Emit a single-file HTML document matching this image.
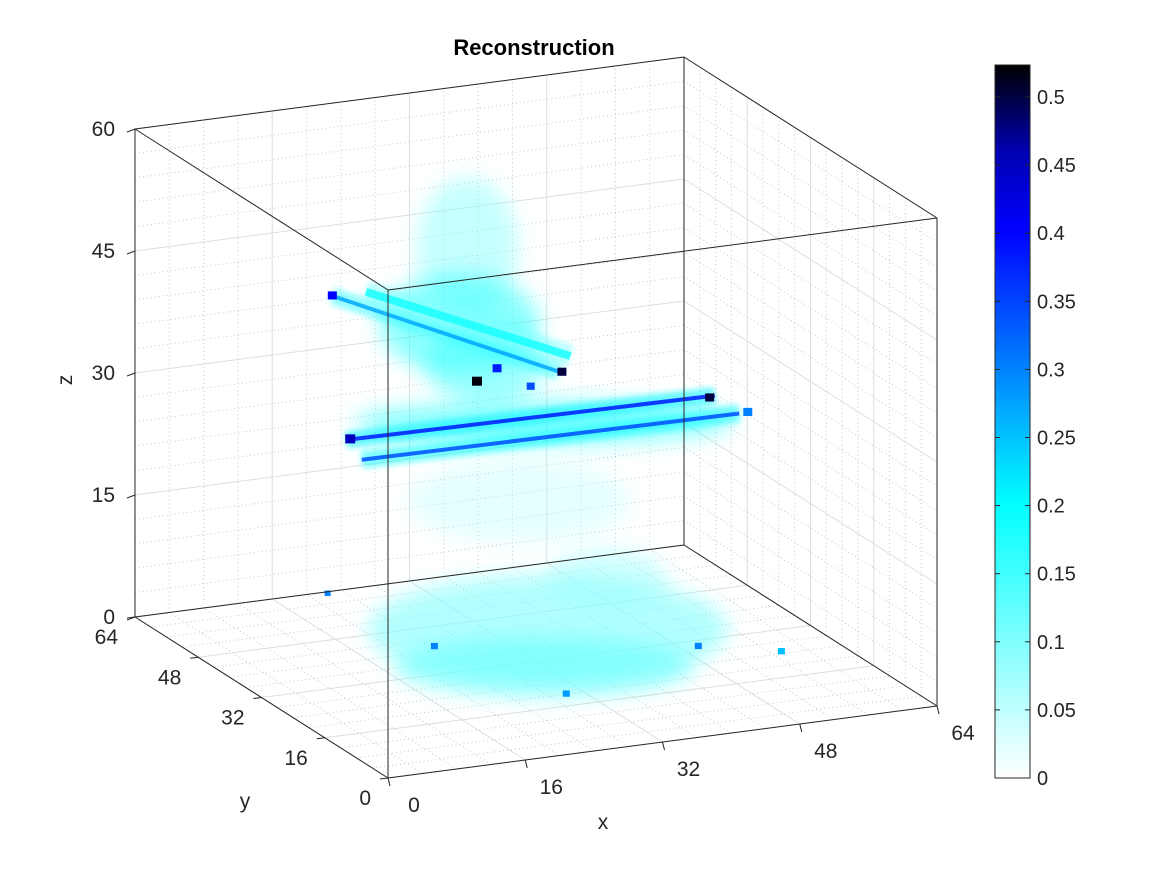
<!DOCTYPE html>
<html><head><meta charset="utf-8">
<style>
body{margin:0;background:#fff;}
svg{display:block;font-family:"Liberation Sans",sans-serif;}
</style></head>
<body>
<svg id="chart" width="1167" height="875" viewBox="0 0 1167 875">
<defs>
<filter id="blur8" x="-50%" y="-50%" width="200%" height="200%"><feGaussianBlur stdDeviation="10"/></filter>
<filter id="blur3" x="-50%" y="-50%" width="200%" height="200%"><feGaussianBlur stdDeviation="3"/></filter>
<linearGradient id="cmap" x1="0" y1="1" x2="0" y2="0">
<stop offset="0" stop-color="#ffffff"/>
<stop offset="0.385" stop-color="#00ffff"/>
<stop offset="0.575" stop-color="#0082ff"/>
<stop offset="0.77" stop-color="#0000ff"/>
<stop offset="0.88" stop-color="#0000b0"/>
<stop offset="1" stop-color="#000000"/>
</linearGradient>
</defs>
<g id="grid"></g>
<g id="voxels"></g>
<g id="box"></g>
<g id="ticks" font-size="21" fill="#262626"></g>
<text x="534" y="55" text-anchor="middle" font-size="22" font-weight="bold" fill="#000">Reconstruction</text>
<text x="603" y="829" text-anchor="middle" font-size="21" fill="#262626">x</text>
<text x="245" y="808" text-anchor="middle" font-size="21" fill="#262626">y</text>
<text x="72" y="380" text-anchor="middle" font-size="21" fill="#262626" transform="rotate(-90 72 380)">z</text>
<g>
<rect x="995" y="65" width="35" height="713" fill="url(#cmap)" stroke="#262626" stroke-width="1"/>
<g id="cbticks" font-size="20" fill="#262626"></g>
</g>
</svg>
<script>
const xTicks=[0,16,32,48,64];
const yTicks=[0,16,32,48,64];
const zTicks=[0,15,30,45,60];
const cbTicks=[0,0.05,0.1,0.15,0.2,0.25,0.3,0.35,0.4,0.45,0.5];
const cbMax=0.5235;
// clouds: [x,y,z,rx(px),ry(px),value,opacity]
const clouds=[
[24,32,52,50,70,0.1,0.45],
[24,34,42,80,50,0.16,0.55],
[28,36,36,60,40,0.15,0.5],
[32,30,30,190,22,0.18,0.5],
[30,32,20,110,40,0.06,0.35],
[38,42,0,180,55,0.1,0.6],
[32,30,0,150,30,0.12,0.6],
[44,40,6,60,30,0.08,0.45]
];
// rods: [x0,y0,z0,x1,y1,z1,value,width]
const rods=[
[8,28,31.8,51,28,31.3,0.38,5],
[8,24,30.6,52,24,30.2,0.34,5],
[23,64,36.3,33.4,29.2,36.3,0.27,5],
[26,62,37,36,32,37,0.18,10]
];
// spots: [x,y,z,value,size]
const spots=[
[24.2,30,36.1,0.52,10],[34.1,30,35.9,0.5,9],[50.4,28,31.1,0.5,9],[8.5,28,31.8,0.45,10],
[23,64,36.3,0.4,9],[27,31,37,0.38,9],[30,29,35,0.34,8],[53,24,30.2,0.3,9],
[50,30,0,0.3,7],[22,36,2,0.3,7],[56,22,1,0.25,7],[30,20,0,0.28,7],[16,50,5,0.3,6]
];
const NS='http://www.w3.org/2000/svg';
function P(x,y,z){return [388+x*549/64-y*253/64, 778-x*72/64-y*161/64-z*488/60];}
function cmap(v){
 const s=[[0,255,255,255],[0.2,0,255,255],[0.3,0,130,255],[0.4,0,0,255],[0.46,0,0,176],[0.5235,0,0,0]];
 v=Math.max(0,Math.min(cbMax,v));
 for(let i=1;i<s.length;i++){if(v<=s[i][0]){const t=(v-s[i-1][0])/(s[i][0]-s[i-1][0]);
  const c=[1,2,3].map(k=>Math.round(s[i-1][k]+t*(s[i][k]-s[i-1][k])));return `rgb(${c})`;}}
 return 'rgb(0,0,0)';
}
function el(tag,attrs,parent){const e=document.createElementNS(NS,tag);for(const k in attrs)e.setAttribute(k,attrs[k]);parent.appendChild(e);return e;}
function line(a,b,attrs,parent){return el('line',Object.assign({x1:a[0],y1:a[1],x2:b[0],y2:b[1]},attrs),parent);}
const grid=document.getElementById('grid');
const major={stroke:'#dedede','stroke-width':1};
const minor={stroke:'#c8c8c8','stroke-width':1,'stroke-dasharray':'1 3'};
for(let v=0;v<=64;v+=4){const st=v%16===0?major:minor;
 let g=line(P(v,0,0),P(v,64,0),st,grid);
 g=line(P(0,v,0),P(64,v,0),st,grid);
 g=line(P(v,64,0),P(v,64,60),st,grid);
 g=line(P(64,v,0),P(64,v,60),st,grid);
}
for(let v=0;v<=60;v+=3){const st=v%15===0?major:minor;
 let g=line(P(0,64,v),P(64,64,v),st,grid);
 g=line(P(64,0,v),P(64,64,v),st,grid);
}
const vox=document.getElementById('voxels');
clouds.forEach(c=>{const p=P(c[0],c[1],c[2]);
 const e=el('ellipse',{cx:p[0],cy:p[1],rx:c[3],ry:c[4],fill:cmap(c[5]),opacity:c[6],filter:'url(#blur8)'},vox);
 });
rods.forEach(r=>{const a=P(r[0],r[1],r[2]),b=P(r[3],r[4],r[5]);
 let g=line(a,b,{stroke:cmap(r[6]*0.55),'stroke-width':r[7]+12,opacity:0.55,filter:'url(#blur3)'},vox);
 
 g=line(a,b,{stroke:cmap(r[6]),'stroke-width':r[7]*0.8,opacity:0.85},vox);
 });
spots.forEach(s=>{const p=P(s[0],s[1],s[2]);
 const e=el('rect',{x:p[0]-s[4]/2,y:p[1]-s[4]/2,width:s[4],height:s[4]*0.9,fill:cmap(s[3])},vox);
 });
const box=document.getElementById('box');
const C=[[0,0,0],[64,0,0],[64,64,0],[0,64,0]];
const edge={stroke:'#262626','stroke-width':1};
for(let i=0;i<4;i++){const a=C[i],b=C[(i+1)%4];
 let g=line(P(...a),P(...b),edge,box);
 g=line(P(a[0],a[1],60),P(b[0],b[1],60),edge,box);
 g=line(P(...a),P(a[0],a[1],60),edge,box);}
const tk=document.getElementById('ticks');
function txt(p,s,anchor,parent,name){const t=el('text',{x:p[0],y:p[1],'text-anchor':anchor},parent);t.textContent=s;
 return t;}
xTicks.forEach(v=>{const p=P(v,0,0);line(p,[p[0]+2,p[1]+8],edge,box);txt([p[0]+26,p[1]+34],v,'middle',tk,'x-tick-label');});
yTicks.forEach(v=>{const p=P(0,v,0);line(p,[p[0]-8,p[1]+1],edge,box);txt([p[0]-17,p[1]+27],v,'end',tk,'y-tick-label');});
zTicks.forEach(v=>{const p=P(0,64,v);line(p,[p[0]-8,p[1]+3],edge,box);txt([p[0]-20,p[1]+7],v,'end',tk,'z-tick-label');});
const cb=document.getElementById('cbticks');
cbTicks.forEach(v=>{const y=778-v/cbMax*713;
 line([995,y],[1000,y],edge,cb);line([1030,y],[1025,y],edge,cb);
 txt([1037,y+7],v,'start',cb,'colorbar-tick-label');});
</script>
</body></html>
